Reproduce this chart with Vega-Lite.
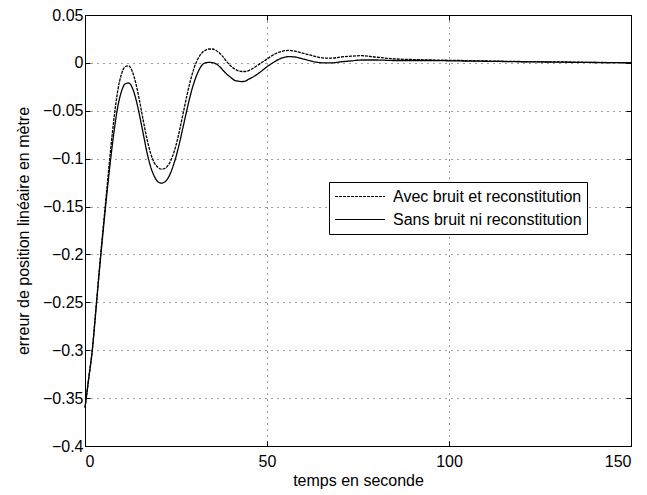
{
  "$schema": "https://vega.github.io/schema/vega-lite/v6.json",
  "width": 546,
  "height": 431,
  "autosize": {"type": "none"},
  "padding": {"left": 85, "top": 15, "right": 16, "bottom": 49},
  "background": "white",
  "config": {
    "view": {"stroke": "black", "strokeWidth": 1},
    "font": "Liberation Sans",
    "axis": {
      "domainColor": "black",
      "tickColor": "black",
      "labelColor": "black",
      "titleColor": "black",
      "labelFont": "Liberation Sans",
      "titleFont": "Liberation Sans",
      "labelFontSize": 16,
      "titleFontSize": 16,
      "titleFontWeight": "normal",
      "gridColor": "black",
      "gridDash": [1, 5],
      "gridOpacity": 0.75,
      "tickSize": -5
    }
  },
  "data": {
    "values": [
      {"t":0,"v":-0.36,"s":"Avec bruit et reconstitution"},
      {"t":1,"v":-0.33,"s":"Avec bruit et reconstitution"},
      {"t":2,"v":-0.30,"s":"Avec bruit et reconstitution"},
      {"t":3,"v":-0.257,"s":"Avec bruit et reconstitution"},
      {"t":4,"v":-0.213,"s":"Avec bruit et reconstitution"},
      {"t":5,"v":-0.172,"s":"Avec bruit et reconstitution"},
      {"t":6,"v":-0.132,"s":"Avec bruit et reconstitution"},
      {"t":7,"v":-0.092,"s":"Avec bruit et reconstitution"},
      {"t":8,"v":-0.057,"s":"Avec bruit et reconstitution"},
      {"t":9,"v":-0.029,"s":"Avec bruit et reconstitution"},
      {"t":10,"v":-0.012,"s":"Avec bruit et reconstitution"},
      {"t":11,"v":-0.004,"s":"Avec bruit et reconstitution"},
      {"t":12,"v":-0.003,"s":"Avec bruit et reconstitution"},
      {"t":13,"v":-0.009,"s":"Avec bruit et reconstitution"},
      {"t":14,"v":-0.022,"s":"Avec bruit et reconstitution"},
      {"t":15,"v":-0.040,"s":"Avec bruit et reconstitution"},
      {"t":16,"v":-0.060,"s":"Avec bruit et reconstitution"},
      {"t":17,"v":-0.079,"s":"Avec bruit et reconstitution"},
      {"t":18,"v":-0.094,"s":"Avec bruit et reconstitution"},
      {"t":19,"v":-0.104,"s":"Avec bruit et reconstitution"},
      {"t":20,"v":-0.109,"s":"Avec bruit et reconstitution"},
      {"t":21,"v":-0.111,"s":"Avec bruit et reconstitution"},
      {"t":22,"v":-0.110,"s":"Avec bruit et reconstitution"},
      {"t":23,"v":-0.106,"s":"Avec bruit et reconstitution"},
      {"t":24,"v":-0.098,"s":"Avec bruit et reconstitution"},
      {"t":25,"v":-0.086,"s":"Avec bruit et reconstitution"},
      {"t":26,"v":-0.070,"s":"Avec bruit et reconstitution"},
      {"t":27,"v":-0.052,"s":"Avec bruit et reconstitution"},
      {"t":28,"v":-0.034,"s":"Avec bruit et reconstitution"},
      {"t":29,"v":-0.018,"s":"Avec bruit et reconstitution"},
      {"t":30,"v":-0.005,"s":"Avec bruit et reconstitution"},
      {"t":31,"v":0.004,"s":"Avec bruit et reconstitution"},
      {"t":32,"v":0.010,"s":"Avec bruit et reconstitution"},
      {"t":33,"v":0.013,"s":"Avec bruit et reconstitution"},
      {"t":34,"v":0.0145,"s":"Avec bruit et reconstitution"},
      {"t":35,"v":0.0145,"s":"Avec bruit et reconstitution"},
      {"t":36,"v":0.013,"s":"Avec bruit et reconstitution"},
      {"t":37,"v":0.010,"s":"Avec bruit et reconstitution"},
      {"t":38,"v":0.006,"s":"Avec bruit et reconstitution"},
      {"t":39,"v":0.001,"s":"Avec bruit et reconstitution"},
      {"t":40,"v":-0.003,"s":"Avec bruit et reconstitution"},
      {"t":41,"v":-0.006,"s":"Avec bruit et reconstitution"},
      {"t":42,"v":-0.008,"s":"Avec bruit et reconstitution"},
      {"t":43,"v":-0.009,"s":"Avec bruit et reconstitution"},
      {"t":44,"v":-0.009,"s":"Avec bruit et reconstitution"},
      {"t":45,"v":-0.008,"s":"Avec bruit et reconstitution"},
      {"t":46,"v":-0.006,"s":"Avec bruit et reconstitution"},
      {"t":48,"v":-0.001,"s":"Avec bruit et reconstitution"},
      {"t":50,"v":0.004,"s":"Avec bruit et reconstitution"},
      {"t":52,"v":0.009,"s":"Avec bruit et reconstitution"},
      {"t":54,"v":0.012,"s":"Avec bruit et reconstitution"},
      {"t":56,"v":0.013,"s":"Avec bruit et reconstitution"},
      {"t":58,"v":0.012,"s":"Avec bruit et reconstitution"},
      {"t":60,"v":0.010,"s":"Avec bruit et reconstitution"},
      {"t":62,"v":0.008,"s":"Avec bruit et reconstitution"},
      {"t":64,"v":0.006,"s":"Avec bruit et reconstitution"},
      {"t":66,"v":0.005,"s":"Avec bruit et reconstitution"},
      {"t":68,"v":0.005,"s":"Avec bruit et reconstitution"},
      {"t":70,"v":0.006,"s":"Avec bruit et reconstitution"},
      {"t":73,"v":0.007,"s":"Avec bruit et reconstitution"},
      {"t":76,"v":0.0075,"s":"Avec bruit et reconstitution"},
      {"t":80,"v":0.006,"s":"Avec bruit et reconstitution"},
      {"t":85,"v":0.0042,"s":"Avec bruit et reconstitution"},
      {"t":90,"v":0.0035,"s":"Avec bruit et reconstitution"},
      {"t":95,"v":0.003,"s":"Avec bruit et reconstitution"},
      {"t":100,"v":0.0027,"s":"Avec bruit et reconstitution"},
      {"t":110,"v":0.002,"s":"Avec bruit et reconstitution"},
      {"t":120,"v":0.0014,"s":"Avec bruit et reconstitution"},
      {"t":130,"v":0.001,"s":"Avec bruit et reconstitution"},
      {"t":140,"v":0.0005,"s":"Avec bruit et reconstitution"},
      {"t":150,"v":0.0002,"s":"Avec bruit et reconstitution"},
      {"t":0,"v":-0.36,"s":"Sans bruit ni reconstitution"},
      {"t":1,"v":-0.33,"s":"Sans bruit ni reconstitution"},
      {"t":2,"v":-0.30,"s":"Sans bruit ni reconstitution"},
      {"t":3,"v":-0.258,"s":"Sans bruit ni reconstitution"},
      {"t":4,"v":-0.215,"s":"Sans bruit ni reconstitution"},
      {"t":5,"v":-0.175,"s":"Sans bruit ni reconstitution"},
      {"t":6,"v":-0.137,"s":"Sans bruit ni reconstitution"},
      {"t":7,"v":-0.102,"s":"Sans bruit ni reconstitution"},
      {"t":8,"v":-0.071,"s":"Sans bruit ni reconstitution"},
      {"t":9,"v":-0.046,"s":"Sans bruit ni reconstitution"},
      {"t":10,"v":-0.030,"s":"Sans bruit ni reconstitution"},
      {"t":11,"v":-0.022,"s":"Sans bruit ni reconstitution"},
      {"t":12,"v":-0.021,"s":"Sans bruit ni reconstitution"},
      {"t":13,"v":-0.026,"s":"Sans bruit ni reconstitution"},
      {"t":14,"v":-0.038,"s":"Sans bruit ni reconstitution"},
      {"t":15,"v":-0.055,"s":"Sans bruit ni reconstitution"},
      {"t":16,"v":-0.074,"s":"Sans bruit ni reconstitution"},
      {"t":17,"v":-0.093,"s":"Sans bruit ni reconstitution"},
      {"t":18,"v":-0.108,"s":"Sans bruit ni reconstitution"},
      {"t":19,"v":-0.118,"s":"Sans bruit ni reconstitution"},
      {"t":20,"v":-0.124,"s":"Sans bruit ni reconstitution"},
      {"t":21,"v":-0.1255,"s":"Sans bruit ni reconstitution"},
      {"t":22,"v":-0.124,"s":"Sans bruit ni reconstitution"},
      {"t":23,"v":-0.119,"s":"Sans bruit ni reconstitution"},
      {"t":24,"v":-0.110,"s":"Sans bruit ni reconstitution"},
      {"t":25,"v":-0.098,"s":"Sans bruit ni reconstitution"},
      {"t":26,"v":-0.083,"s":"Sans bruit ni reconstitution"},
      {"t":27,"v":-0.066,"s":"Sans bruit ni reconstitution"},
      {"t":28,"v":-0.049,"s":"Sans bruit ni reconstitution"},
      {"t":29,"v":-0.033,"s":"Sans bruit ni reconstitution"},
      {"t":30,"v":-0.020,"s":"Sans bruit ni reconstitution"},
      {"t":31,"v":-0.010,"s":"Sans bruit ni reconstitution"},
      {"t":32,"v":-0.003,"s":"Sans bruit ni reconstitution"},
      {"t":33,"v":0.000,"s":"Sans bruit ni reconstitution"},
      {"t":34,"v":0.0005,"s":"Sans bruit ni reconstitution"},
      {"t":35,"v":0.0003,"s":"Sans bruit ni reconstitution"},
      {"t":36,"v":-0.001,"s":"Sans bruit ni reconstitution"},
      {"t":37,"v":-0.004,"s":"Sans bruit ni reconstitution"},
      {"t":38,"v":-0.008,"s":"Sans bruit ni reconstitution"},
      {"t":39,"v":-0.012,"s":"Sans bruit ni reconstitution"},
      {"t":40,"v":-0.015,"s":"Sans bruit ni reconstitution"},
      {"t":41,"v":-0.018,"s":"Sans bruit ni reconstitution"},
      {"t":42,"v":-0.019,"s":"Sans bruit ni reconstitution"},
      {"t":43,"v":-0.0195,"s":"Sans bruit ni reconstitution"},
      {"t":44,"v":-0.019,"s":"Sans bruit ni reconstitution"},
      {"t":45,"v":-0.017,"s":"Sans bruit ni reconstitution"},
      {"t":46,"v":-0.015,"s":"Sans bruit ni reconstitution"},
      {"t":48,"v":-0.010,"s":"Sans bruit ni reconstitution"},
      {"t":50,"v":-0.004,"s":"Sans bruit ni reconstitution"},
      {"t":52,"v":0.001,"s":"Sans bruit ni reconstitution"},
      {"t":54,"v":0.005,"s":"Sans bruit ni reconstitution"},
      {"t":56,"v":0.0065,"s":"Sans bruit ni reconstitution"},
      {"t":58,"v":0.006,"s":"Sans bruit ni reconstitution"},
      {"t":60,"v":0.004,"s":"Sans bruit ni reconstitution"},
      {"t":62,"v":0.002,"s":"Sans bruit ni reconstitution"},
      {"t":64,"v":0.0005,"s":"Sans bruit ni reconstitution"},
      {"t":66,"v":0.0,"s":"Sans bruit ni reconstitution"},
      {"t":68,"v":0.0,"s":"Sans bruit ni reconstitution"},
      {"t":70,"v":0.001,"s":"Sans bruit ni reconstitution"},
      {"t":73,"v":0.002,"s":"Sans bruit ni reconstitution"},
      {"t":76,"v":0.003,"s":"Sans bruit ni reconstitution"},
      {"t":80,"v":0.003,"s":"Sans bruit ni reconstitution"},
      {"t":85,"v":0.0025,"s":"Sans bruit ni reconstitution"},
      {"t":90,"v":0.0025,"s":"Sans bruit ni reconstitution"},
      {"t":95,"v":0.0025,"s":"Sans bruit ni reconstitution"},
      {"t":100,"v":0.0022,"s":"Sans bruit ni reconstitution"},
      {"t":110,"v":0.0017,"s":"Sans bruit ni reconstitution"},
      {"t":120,"v":0.0012,"s":"Sans bruit ni reconstitution"},
      {"t":130,"v":0.0008,"s":"Sans bruit ni reconstitution"},
      {"t":140,"v":0.0004,"s":"Sans bruit ni reconstitution"},
      {"t":150,"v":0.0001,"s":"Sans bruit ni reconstitution"}
    ]
  },
  "layer": [
    {
      "mark": {"type": "line", "color": "black", "strokeWidth": 1.3, "interpolate": "monotone"},
      "encoding": {
        "x": {
          "field": "t", "type": "quantitative",
          "scale": {"domain": [0, 150], "nice": false},
          "axis": {"title": "temps en seconde", "values": [0, 50, 100, 150], "grid": true, "labelPadding": 12, "titlePadding": 3, "format": "d"}
        },
        "y": {
          "field": "v", "type": "quantitative",
          "scale": {"domain": [-0.4, 0.05], "nice": false, "zero": false},
          "axis": {"title": "erreur de position linéaire en mètre", "values": [0.05, 0, -0.05, -0.1, -0.15, -0.2, -0.25, -0.3, -0.35, -0.4], "grid": true, "format": "~g", "labelPadding": 7, "titlePadding": 11}
        },
        "strokeDash": {
          "field": "s", "type": "nominal",
          "scale": {"domain": ["Avec bruit et reconstitution", "Sans bruit ni reconstitution"], "range": [[3, 1], [1, 0]]},
          "legend": {
            "title": null, "orient": "none", "legendX": 244, "legendY": 167,
            "strokeColor": "black", "fillColor": "white", "padding": 5,
            "symbolType": "stroke", "symbolSize": 2500, "symbolStrokeWidth": 1.2, "symbolStrokeColor": "black",
            "labelFontSize": 16, "labelFont": "Liberation Sans", "labelColor": "black", "labelLimit": 400, "labelOffset": 7,
            "clipHeight": 19, "rowPadding": 4
          }
        }
      }
    },
    {
      "mark": {"type": "line", "opacity": 0},
      "encoding": {
        "x": {"field": "t", "type": "quantitative", "axis": {"orient": "top", "labels": false, "title": null, "values": [0, 50, 100, 150], "grid": false, "domain": false}},
        "y": {"field": "v", "type": "quantitative", "axis": {"orient": "right", "labels": false, "title": null, "values": [0.05, 0, -0.05, -0.1, -0.15, -0.2, -0.25, -0.3, -0.35, -0.4], "grid": false, "domain": false}},
        "detail": {"field": "s"}
      }
    }
  ],
  "resolve": {"axis": {"x": "independent", "y": "independent"}}
}
